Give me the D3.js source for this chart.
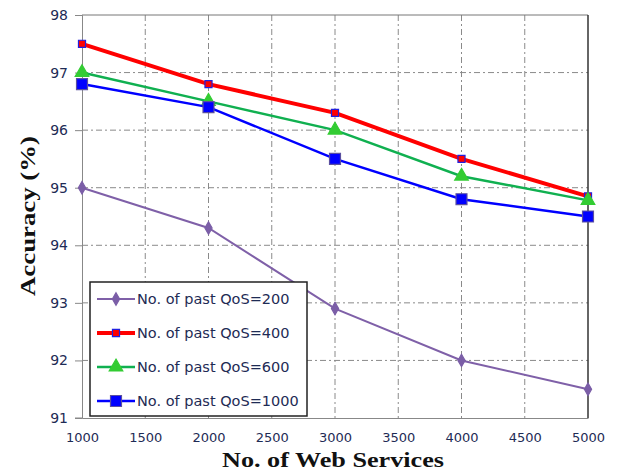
<!DOCTYPE html>
<html><head><meta charset="utf-8">
<script src="https://cdn.jsdelivr.net/npm/d3@7"></script>
<style>body{margin:0;background:#fff;}svg{display:block;}</style>
</head><body>
<script>
const xValues = [1000, 2000, 3000, 4000, 5000];
const seriesNames = ["No. of past QoS=200", "No. of past QoS=400", "No. of past QoS=600", "No. of past QoS=1000"];
const qos200 = [95.0, 94.3, 92.9, 92.0, 91.5];
const qos400 = [97.5, 96.8, 96.3, 95.5, 94.85];
const qos600 = [97.0, 96.5, 96.0, 95.2, 94.78];
const qos1000 = [96.8, 96.4, 95.5, 94.8, 94.5];
const xTicks = [1000, 1500, 2000, 2500, 3000, 3500, 4000, 4500, 5000];
const yTicks = [91, 92, 93, 94, 95, 96, 97, 98];

const W = 617, H = 472;
const m = {l: 82, r: 29, t: 15, b: 54};
const svg = d3.select("body").append("svg").attr("width", W).attr("height", H);
const x = d3.scaleLinear().domain([1000, 5000]).range([m.l, W - m.r]);
const y = d3.scaleLinear().domain([91, 98]).range([H - m.b, m.t]);

// grid
const grid = svg.append("g").attr("stroke", "#8a8a8a").attr("stroke-width", 1).attr("stroke-dasharray", "6,3,2,3");
grid.selectAll("line.v").data(xTicks.slice(1, -1)).join("line")
  .attr("x1", d => x(d)).attr("x2", d => x(d)).attr("y1", y(98)).attr("y2", y(91));
grid.selectAll("line.h").data(yTicks.slice(1, -1)).join("line")
  .attr("x1", x(1000)).attr("x2", x(5000)).attr("y1", d => y(d)).attr("y2", d => y(d));

const tickFont = "Verdana, 'DejaVu Sans', sans-serif";
// axes
const yAxis = svg.append("g").attr("transform", `translate(${m.l},0)`)
  .call(d3.axisLeft(y).tickValues(yTicks).tickFormat(d3.format("d")).tickSize(7).tickPadding(7));
yAxis.select(".domain").attr("stroke", "#888");
yAxis.selectAll(".tick line").attr("stroke", "#888");
yAxis.selectAll("text").attr("font-family", tickFont).attr("font-size", 14).attr("fill", "#1e2b55");

const xAxis = svg.append("g").attr("transform", `translate(0,${y(91)})`)
  .call(d3.axisBottom(x).tickValues(xTicks).tickFormat(d3.format("d")).tickSize(0).tickPadding(15));
xAxis.select(".domain").attr("stroke", "#888");
xAxis.selectAll("text").attr("font-family", tickFont).attr("font-size", 13).attr("fill", "#1e2b55");
svg.append("line").attr("x1", m.l - 7).attr("x2", m.l).attr("y1", y(91)).attr("y2", y(91)).attr("stroke", "#888");

// top & right border
svg.append("line").attr("x1", x(1000)).attr("x2", x(5000)).attr("y1", y(98)).attr("y2", y(98)).attr("stroke", "#777");
svg.append("line").attr("x1", x(5000)).attr("x2", x(5000)).attr("y1", y(98)).attr("y2", y(91)).attr("stroke", "#333").attr("stroke-width", 1.5);

// axis titles
const titleFont = "'Liberation Serif', 'Times New Roman', serif";
svg.append("text").attr("x", 333).attr("y", 467).attr("text-anchor", "middle")
  .attr("font-family", titleFont).attr("font-weight", "bold").attr("font-size", 21)
  .attr("textLength", 222).attr("lengthAdjust", "spacingAndGlyphs")
  .attr("fill", "#111").text("No. of Web Services");
svg.append("text").attr("transform", "translate(35,216) rotate(-90)").attr("text-anchor", "middle")
  .attr("font-family", titleFont).attr("font-weight", "bold").attr("font-size", 22)
  .attr("textLength", 160).attr("lengthAdjust", "spacingAndGlyphs")
  .attr("fill", "#111").text("Accuracy  (%)");

const series = [
  {name: seriesNames[0], vals: qos200, color: "#7f60a8", width: 2, marker: "diamond", mfill: "#7b5ea7", mstroke: "#7b5ea7", msize: 45},
  {name: seriesNames[1], vals: qos400, color: "#ff0000", width: 4, marker: "square", mfill: "#ff0000", mstroke: "#2020e0", msize: 50},
  {name: seriesNames[2], vals: qos600, color: "#10b050", width: 2.5, marker: "triangle", mfill: "#33cc33", mstroke: "#33cc33", msize: 80},
  {name: seriesNames[3], vals: qos1000, color: "#0000ff", width: 2.5, marker: "square", mfill: "#0000ff", mstroke: "#5a4fa0", msize: 120}
];
const symType = {diamond: d3.symbolDiamond, square: d3.symbolSquare, triangle: d3.symbolTriangle};
const line = d3.line().x(d => x(d[0])).y(d => y(d[1]));

series.forEach(s => {
  const pts = xValues.map((v, i) => [v, s.vals[i]]);
  svg.append("path").datum(pts).attr("d", line).attr("fill", "none").attr("stroke", s.color).attr("stroke-width", s.width);
  svg.append("g").selectAll("path").data(pts).join("path")
    .attr("transform", d => `translate(${x(d[0])},${y(d[1])})`)
    .attr("d", d3.symbol().type(symType[s.marker]).size(s.msize))
    .attr("fill", s.mfill).attr("stroke", s.mstroke).attr("stroke-width", 1.2);
});

// legend
const lg = svg.append("g");
lg.append("rect").attr("x", 90).attr("y", 282).attr("width", 217).attr("height", 134)
  .attr("fill", "#fff").attr("stroke", "#222").attr("stroke-width", 1.5);
series.forEach((s, i) => {
  const cy = 299 + i * 34;
  lg.append("line").attr("x1", 97).attr("x2", 135).attr("y1", cy).attr("y2", cy).attr("stroke", s.color).attr("stroke-width", s.width);
  lg.append("path").attr("transform", `translate(116,${cy})`)
    .attr("d", d3.symbol().type(symType[s.marker]).size(s.msize))
    .attr("fill", s.mfill).attr("stroke", s.mstroke).attr("stroke-width", 1.2);
  lg.append("text").attr("x", 137).attr("y", cy + 5)
    .attr("font-family", tickFont).attr("font-size", 14.5).attr("fill", "#1e2b55")
    .text(s.name);
});
</script>
</body></html>
